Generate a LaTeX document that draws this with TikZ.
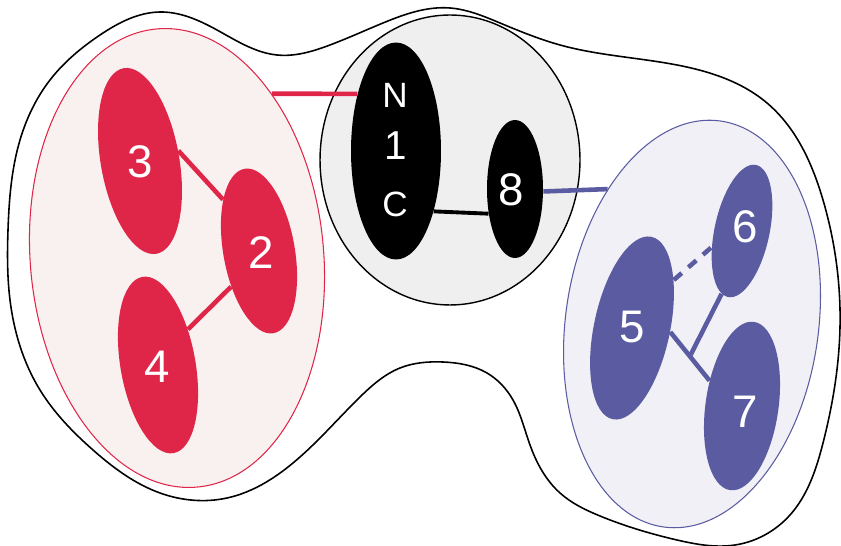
\documentclass[tikz,border=0pt]{standalone}
\usepackage{fontspec}
\setmainfont{Liberation Sans}
\usetikzlibrary{shapes.geometric, calc, positioning, hobby}
\definecolor{domRed}{RGB}{224,38,72}
\definecolor{domRedBg}{RGB}{249,240,240}
\definecolor{domBlue}{RGB}{90,91,160}
\definecolor{domBlueBg}{RGB}{240,240,246}
\definecolor{coreBg}{RGB}{240,239,240}
\tikzset{
    redGroup/.style={ellipse, draw=domRed, line width=0.6pt, fill=domRedBg, inner sep=0pt},
    blueGroup/.style={ellipse, draw=domBlue, line width=0.6pt, fill=domBlueBg, inner sep=0pt},
    coreGroup/.style={ellipse, draw, line width=0.8pt, fill=coreBg, inner sep=0pt},
    redBlob/.style={ellipse, fill=domRed, inner sep=0pt},
    blueBlob/.style={ellipse, fill=domBlue, inner sep=0pt},
    blackBlob/.style={ellipse, fill=black, inner sep=0pt},
    numText/.style={text=white, inner sep=0pt, font=\fontsize{26}{26}\selectfont},
    coreText/.style={text=white, inner sep=0pt, font=\fontsize{20}{20}\selectfont},
    redBond/.style={draw=domRed, line width=2.6pt},
    blueBond/.style={draw=domBlue, line width=2.6pt},
    blackBond/.style={draw=black, line width=2.2pt},
    blueDashed/.style={blueBond, dash pattern=on 6pt off 5pt},
}
% 两个节点之间的连线
\newcommand{\drawBond}[3][blackBond]{
    \draw[#1] (#2) -- (#3);
}

\begin{document}
\begin{tikzpicture}[x=0.02cm, y=-0.02cm]
        \useasboundingbox (0,0) rectangle (841,546);

        % 外轮廓
        \draw[line width=0.9pt] plot[closed hobby] coordinates {
            (10,300) (8,230) (20,140) (50,80) (100,35) (160,12) (217,30) (277,55)
            (330,45) (383,23) (450,8) (500,23) (560,45) (677,65) (767,103) (823,200)
            (840,327) (823,443) (790,515) (735,545) (677,540) (600,516) (560,493)
            (530,445) (513,400) (487,373) (443,362) (400,368) (360,397) (293,463)
            (227,498) (160,493) (93,450) (40,390)};

        \node[redGroup, minimum width=5.87cm, minimum height=9.2cm, rotate=5] (redG) at (177,258) {};
        \node[coreGroup, minimum width=5.2cm, minimum height=5.8cm] (coreG) at (450,160) {};
        \node[blueGroup, minimum width=5.06cm, minimum height=8.2cm, rotate=-8] (blueG) at (692,324) {};

        \node[redBlob, minimum width=1.57cm, minimum height=3.77cm, rotate=10] (n3) at (140,161) {};
        \node[redBlob, minimum width=1.43cm, minimum height=3.34cm, rotate=10] (n2) at (259,251) {};
        \node[redBlob, minimum width=1.5cm, minimum height=3.58cm, rotate=10] (n4) at (158,365) {};
        \node[blackBlob, minimum width=1.8cm, minimum height=4.34cm] (n1) at (396,151) {};
        \node[blackBlob, minimum width=1.12cm, minimum height=2.76cm] (n8) at (515,189) {};
        \node[blueBlob, minimum width=1.1cm, minimum height=2.7cm, rotate=-12] (n6) at (742,231) {};
        \node[blueBlob, minimum width=1.52cm, minimum height=3.73cm, rotate=-12] (n5) at (632,328) {};
        \node[blueBlob, minimum width=1.46cm, minimum height=3.4cm, rotate=-8] (n7) at (742,406) {};

        \node[numText] (t3) at (140,162) {3};
        \node[numText] (t2) at (261,253) {2};
        \node[numText] (t4) at (157,367) {4};
        \node[coreText] (tN) at (395,95) {N};
        \node[coreText, font=\fontsize{23}{23}\selectfont] (t1) at (396,146) {1};
        \node[coreText] (tC) at (395,204) {C};
        \node[numText] (t8) at (511,190) {8};
        \node[numText] (t6) at (745,227) {6};
        \node[numText] (t5) at (632,327) {5};
        \node[numText] (t7) at (745,412) {7};

        \drawBond[redBond]{redG.55}{n1.124}
        \drawBond[redBond]{n3.5}{n2.115}
        \drawBond[redBond]{n4.40}{n2.222}
        \drawBond{n1.-58}{n8.223}
        \drawBond[blueBond]{n8.-5}{blueG.130}
        \drawBond[blueDashed]{n5.61}{n6.220}
        \drawBond[blueBond]{n5.6}{n7.150}
        \path (n5.6) -- coordinate[pos=0.5] (j57) (n7.150);
        \drawBond[blueBond]{n6.264}{j57}

    \end{tikzpicture}
\end{document}
